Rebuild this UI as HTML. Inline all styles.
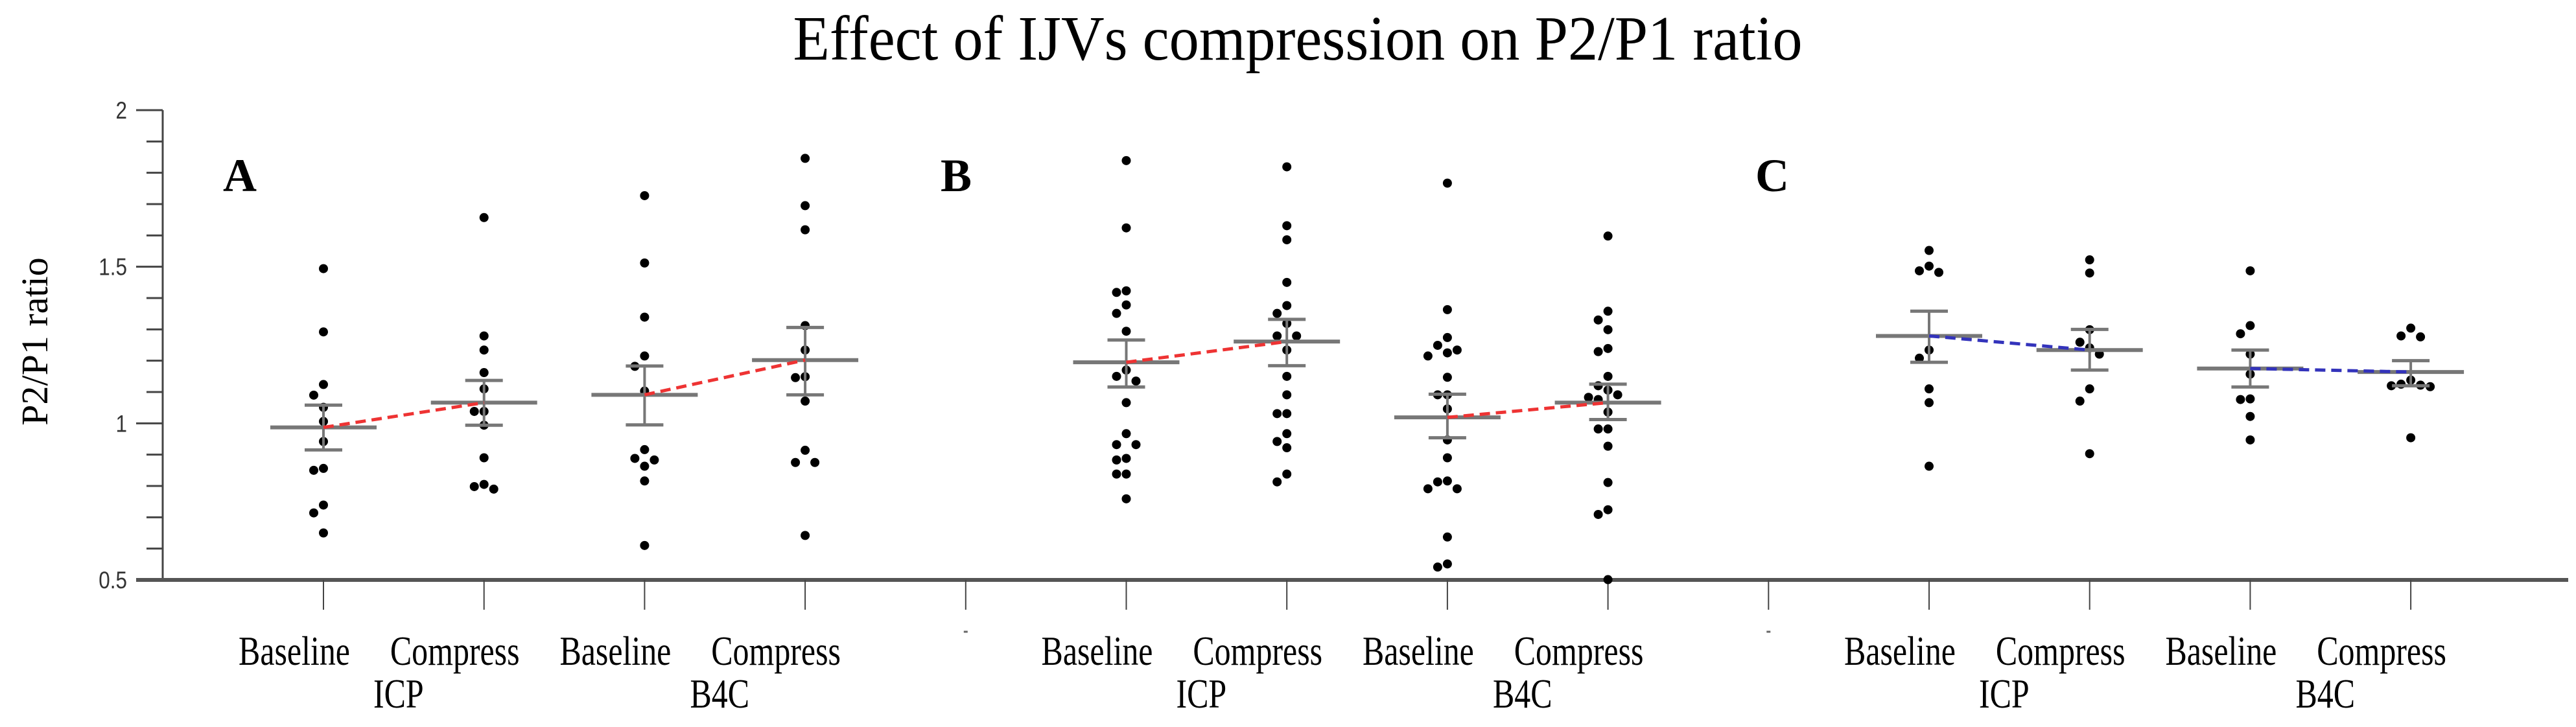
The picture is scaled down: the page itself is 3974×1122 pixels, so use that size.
<!DOCTYPE html>
<html><head><meta charset="utf-8"><style>
html,body{margin:0;padding:0;background:#fff;}
svg{display:block;}
</style></head><body>
<svg id="chart" width="3974" height="1122" viewBox="0 0 3974 1122" xmlns="http://www.w3.org/2000/svg">
<text x="2002" y="92" text-anchor="middle" font-family="Liberation Serif, serif" font-size="97" textLength="1557" lengthAdjust="spacingAndGlyphs" fill="#000">Effect of IJVs compression on P2/P1 ratio</text>
<text transform="translate(73,527) rotate(-90)" text-anchor="middle" font-family="Liberation Serif, serif" font-size="58" fill="#000">P2/P1 ratio</text>
<g id="axes"></g>
<g id="marks"></g>
</svg>
<script>
// categories (tick index on x axis); gap ticks at 4 and 9
const categories = ["Baseline","Compress","Baseline","Compress","","Baseline","Compress","Baseline","Compress","","Baseline","Compress","Baseline","Compress"];
const groupLabels = ["ICP","B4C","ICP","B4C","ICP","B4C"];
const panelLetters = ["A","B","C"];
const yTicks = [0.5,1,1.5,2];
const yTickLabels = ["0.5","1","1.5","2"];

const A_icp_base = [1.494,1.292,1.124,1.09,1.051,1.006,0.942,0.856,0.85,0.739,0.714,0.65];
const A_icp_comp = [1.657,1.279,1.234,1.162,1.11,1.038,1.038,0.994,0.89,0.805,0.79,0.798];
const A_b4c_base = [1.727,1.512,1.339,1.215,1.182,1.103,0.916,0.888,0.883,0.863,0.816,0.61];
const A_b4c_comp = [1.846,1.695,1.618,1.312,1.234,1.146,1.149,1.071,0.914,0.875,0.875,0.642];
const B_icp_base = [1.839,1.624,1.418,1.423,1.378,1.351,1.294,1.17,1.15,1.135,1.066,0.967,0.932,0.932,0.888,0.883,0.838,0.838,0.759];
const B_icp_comp = [1.819,1.631,1.586,1.45,1.376,1.351,1.319,1.279,1.279,1.234,1.15,1.091,1.031,1.031,0.967,0.942,0.922,0.838,0.813];
const B_b4c_base = [1.767,1.363,1.274,1.249,1.234,1.225,1.215,1.147,1.091,1.091,1.046,0.947,0.89,0.816,0.813,0.791,0.791,0.637,0.551,0.541];
const B_b4c_comp = [1.598,1.358,1.33,1.299,1.239,1.229,1.15,1.12,1.106,1.091,1.083,1.076,1.036,0.982,0.982,0.927,0.811,0.724,0.709,0.501];
const C_icp_base = [1.552,1.502,1.487,1.482,1.234,1.208,1.11,1.066,0.863];
const C_icp_comp = [1.522,1.48,1.299,1.259,1.241,1.221,1.11,1.071,0.903];
const C_b4c_base = [1.487,1.312,1.286,1.221,1.157,1.078,1.076,1.022,0.947];
const C_b4c_comp = [1.304,1.279,1.276,1.138,1.125,1.122,1.12,1.117,0.954];

const groupCats = [0,1,2,3,5,6,7,8,10,11,12,13];
const groupPoints = [A_icp_base,A_icp_comp,A_b4c_base,A_b4c_comp,B_icp_base,B_icp_comp,B_b4c_base,B_b4c_comp,C_icp_base,C_icp_comp,C_b4c_base,C_b4c_comp];
const groupMeans = [0.987,1.066,1.091,1.202,1.195,1.261,1.019,1.066,1.279,1.234,1.175,1.164];
const groupSEhi = [1.058,1.137,1.183,1.306,1.266,1.332,1.093,1.125,1.358,1.300,1.234,1.200];
const groupSElo = [0.915,0.994,0.995,1.091,1.116,1.184,0.954,1.012,1.195,1.170,1.116,1.120];
const lineColors = ["#ee3333","#ee3333","#ee3333","#ee3333","#3333bb","#3333bb"];

const NS="http://www.w3.org/2000/svg";
const X0=499, XSTEP=247.7, Y_BOT=895, Y_TOP=170;
function xs(i){return X0+XSTEP*i;}
function ys(v){return Y_BOT-(v-0.5)/(2-0.5)*(Y_BOT-Y_TOP);}
function mk(tag,attrs,parent){const e=document.createElementNS(NS,tag);for(const k in attrs)e.setAttribute(k,attrs[k]);parent.appendChild(e);return e;}
function condense(t,f){const w=t.getComputedTextLength();t.setAttribute('textLength',(w*f).toFixed(1));t.setAttribute('lengthAdjust','spacingAndGlyphs');}
const axes=document.getElementById('axes'), marks=document.getElementById('marks');

let el=mk('line',{x1:251,y1:ys(2),x2:251,y2:Y_BOT,stroke:'#444','stroke-width':3},axes);


for(let k=0;k<=15;k++){
  const v=0.5+k*0.1;
  const major=(k%5===0);
  el=mk('line',{x1:major?210:226,y1:ys(v),x2:251,y2:ys(v),stroke:'#444','stroke-width':3},axes);
  
  
}
yTicks.forEach((v,i)=>{
  const t=mk('text',{x:196,y:ys(v)+13,'text-anchor':'end','font-family':'Liberation Sans, sans-serif','font-size':37,fill:'#333'},axes);
  t.textContent=yTickLabels[i];
  
  
  condense(t,0.85);
});
el=mk('line',{x1:210,y1:Y_BOT,x2:3962,y2:Y_BOT,stroke:'#555','stroke-width':6},axes);


categories.forEach((c,i)=>{
  el=mk('line',{x1:xs(i),y1:Y_BOT,x2:xs(i),y2:941,stroke:'#444','stroke-width':2},axes);
  
  
  if(c){
    const t=mk('text',{x:xs(i)-45,y:1026,'text-anchor':'middle','font-family':'Liberation Serif, serif','font-size':64,fill:'#000'},axes);
    t.textContent=c;
    
    
    condense(t,0.78);
  } else {
    el=mk('line',{x1:xs(i)-3,y1:975,x2:xs(i)+3,y2:975,stroke:'#666','stroke-width':3},axes);
    
    
  }
});
groupLabels.forEach((g,j)=>{
  const ci=groupCats[j*2];
  const t=mk('text',{x:(xs(ci)+xs(ci+1))/2-8,y:1092,'text-anchor':'middle','font-family':'Liberation Serif, serif','font-size':64,fill:'#000'},axes);
  t.textContent=g;
  
  
  condense(t,0.78);
});
const letterX=[344,1451,2708];
panelLetters.forEach((L,i)=>{
  const t=mk('text',{x:letterX[i],y:295,'font-family':'Liberation Serif, serif','font-size':72,'font-weight':'bold',fill:'#000'},axes);
  t.textContent=L;
  
  
});

groupPoints.forEach((pts,g)=>{
  const cx=xs(groupCats[g]);
  const G=mk('g',{},marks);
  
  
  const placed=[];
  const sorted=pts.slice().sort((a,b)=>b-a);
  const cand=[0,-15,15,-30,30,-45,45,-60,60];
  sorted.forEach(v=>{
    const y=ys(v);
    let off=0;
    for(const o of cand){
      if(placed.every(p=>Math.abs(p.y-y)>=20||Math.abs(p.x-o)>=15)){off=o;break;}
    }
    placed.push({x:off,y:y});
    const d=mk('circle',{cx:cx+off,cy:y,r:7,fill:'#000'},G);
    
    
  });
  const gray='#777';
  let e=mk('line',{x1:cx,y1:ys(groupSEhi[g]),x2:cx,y2:ys(groupSElo[g]),stroke:gray,'stroke-width':4},G);
  
  
  e=mk('line',{x1:cx-29,y1:ys(groupSEhi[g]),x2:cx+29,y2:ys(groupSEhi[g]),stroke:gray,'stroke-width':5},G);
  
  
  e=mk('line',{x1:cx-29,y1:ys(groupSElo[g]),x2:cx+29,y2:ys(groupSElo[g]),stroke:gray,'stroke-width':5},G);
  
  
  e=mk('line',{x1:cx-82,y1:ys(groupMeans[g]),x2:cx+82,y2:ys(groupMeans[g]),stroke:gray,'stroke-width':6},G);
  
  
});
for(let p=0;p<6;p++){
  const a=p*2,b=p*2+1;
  const l=mk('line',{x1:xs(groupCats[a]),y1:ys(groupMeans[a]),x2:xs(groupCats[b]),y2:ys(groupMeans[b]),stroke:lineColors[p],'stroke-width':5,'stroke-dasharray':'16 9'},marks);
  
  
}
</script>
</body></html>
